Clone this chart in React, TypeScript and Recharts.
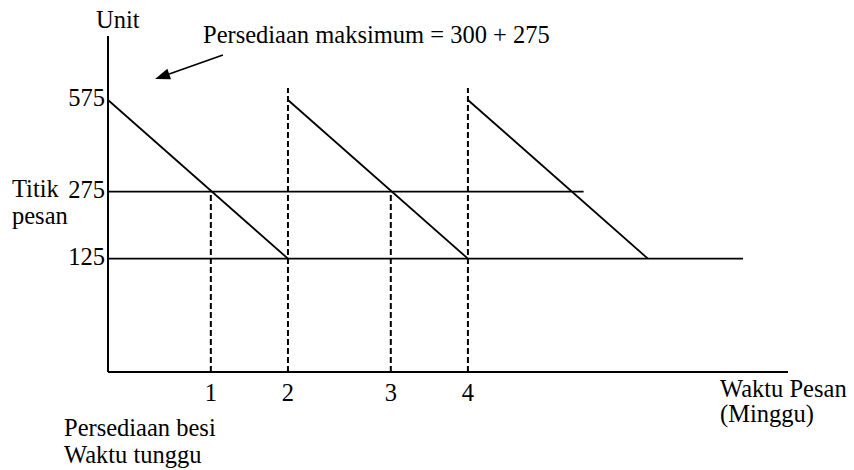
import React from 'react';
import { LineChart, Line, XAxis, YAxis, ReferenceLine, Customized } from 'recharts';

// inventory levels (units)
const maxStock = 575; // 300 + 275
const reorderPoint = 275;
const safetyStock = 125;
const yTicks = [125, 275, 575];

// time axis in days, one cycle = 7 days, order placed on day 4
const cycleStarts = [0, 7, 14];
const cycleEnds = [7, 14, 21];
const orderDays = [4, 11];
const arrivalDays = [7, 14];
const xTickDays = [4, 7, 11, 14];
const xTickLabels = ['1', '2', '3', '4'];
const reorderLineEnd = 18.5;
const safetyLineEnd = 24.7;
const arrivalDashTop = 622;

const xDomain = [0, 26.45];
const yDomain = [4.16, 849];

const FONT = '"Liberation Serif", "Times New Roman", serif';
const FS = 24.5;
const INK = '#000';

const cycles = cycleStarts.map((start, i) => [
    { t: start, v: maxStock },
    { t: cycleEnds[i], v: safetyStock },
]);

const txt = { fontFamily: FONT, fontSize: FS, fill: INK };

const YTick = (props: any) => {
    const { x, y, payload } = props;
    return (
        <g>
            <text x={x} y={y} dy={6} textAnchor="end" style={txt}>{payload.value}</text>
            {payload.value === reorderPoint && (
                <>
                    <text x={12} y={y} dy={5} style={txt}>Titik</text>
                    <text x={12} y={y} dy={32} style={txt}>pesan</text>
                </>
            )}
        </g>
    );
};

const XTick = (props: any) => {
    const { x, y, payload } = props;
    return (
        <text x={x} y={y} dy={16} textAnchor="middle" style={txt}>
            {xTickLabels[xTickDays.indexOf(payload.value)]}
        </text>
    );
};

const ArrowShape = (props: any) => {
    const { x1, y1, x2, y2 } = props;
    const dx = x2 - x1;
    const dy = y2 - y1;
    const len = Math.sqrt(dx * dx + dy * dy) || 1;
    const ux = dx / len;
    const uy = dy / len;
    const bx = x2 - ux * 15;
    const by = y2 - uy * 15;
    const px = -uy * 5.5;
    const py = ux * 5.5;
    return (
        <g>
            <line x1={x1} y1={y1} x2={bx} y2={by} stroke={INK} strokeWidth={1.8} />
            <polygon points={`${x2},${y2} ${bx + px},${by + py} ${bx - px},${by - py}`} fill={INK} />
        </g>
    );
};

const Annotations = () => (
    <g>
        <text x={96} y={28} style={txt}>Unit</text>
        <text x={203} y={43} style={txt}>Persediaan maksimum = 300 + 275</text>
        <text x={720} y={397} style={txt}>Waktu Pesan</text>
        <text x={720} y={422} style={txt}>(Minggu)</text>
        <text x={64} y={436} style={txt}>Persediaan besi</text>
        <text x={64} y={463} style={txt}>Waktu tunggu</text>
    </g>
);

export default function App() {
    return (
        <div style={{ position: 'absolute', left: 0, top: 0, background: '#fff' }}>
            <LineChart
                width={854}
                height={470}
                margin={{ top: 36, right: 66, left: 107, bottom: 97 }}
            >
                <XAxis
                    type="number"
                    dataKey="t"
                    domain={xDomain}
                    allowDataOverflow
                    ticks={xTickDays}
                    interval={0}
                    tickLine={false}
                    tickSize={0}
                    tickMargin={13}
                    axisLine={{ stroke: INK, strokeWidth: 2 }}
                    tick={<XTick />}
                    height={1}
                />
                <YAxis
                    type="number"
                    scale="sqrt"
                    domain={yDomain}
                    allowDataOverflow
                    ticks={yTicks}
                    interval={0}
                    tickLine={false}
                    tickSize={0}
                    tickMargin={3}
                    width={1}
                    axisLine={{ stroke: INK, strokeWidth: 2 }}
                    tick={<YTick />}
                />
                <ReferenceLine
                    segment={[{ x: xDomain[0], y: reorderPoint }, { x: reorderLineEnd, y: reorderPoint }]}
                    stroke={INK}
                    strokeWidth={1.8}
                />
                <ReferenceLine
                    segment={[{ x: xDomain[0], y: safetyStock }, { x: safetyLineEnd, y: safetyStock }]}
                    stroke={INK}
                    strokeWidth={1.8}
                />
                {orderDays.map(d => (
                    <ReferenceLine
                        key={`o${d}`}
                        segment={[{ x: d, y: yDomain[0] }, { x: d, y: reorderPoint }]}
                        stroke={INK}
                        strokeWidth={2}
                        strokeDasharray="6 3"
                    />
                ))}
                {arrivalDays.map(d => (
                    <ReferenceLine
                        key={`a${d}`}
                        segment={[{ x: d, y: yDomain[0] }, { x: d, y: arrivalDashTop }]}
                        stroke={INK}
                        strokeWidth={2}
                        strokeDasharray="6 3"
                    />
                ))}
                {cycles.map((data, i) => (
                    <Line
                        key={i}
                        data={data}
                        dataKey="v"
                        type="linear"
                        stroke={INK}
                        strokeWidth={1.8}
                        dot={false}
                        activeDot={false}
                        isAnimationActive={false}
                    />
                ))}
                <ReferenceLine
                    segment={[{ x: 4.47, y: 762 }, { x: 1.83, y: 659 }]}
                    shape={<ArrowShape />}
                />
                <Customized component={<Annotations />} />
            </LineChart>
        </div>
    );
}
